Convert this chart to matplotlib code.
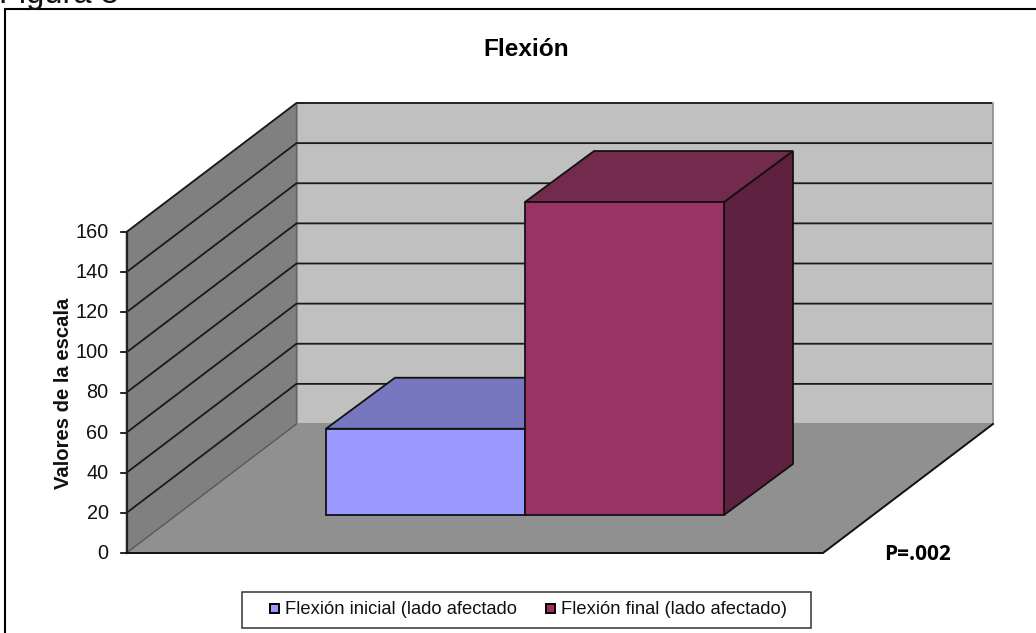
import matplotlib
matplotlib.use("Agg")
import matplotlib.pyplot as plt
from matplotlib.patches import Polygon, Rectangle

# ---- data ----
categories = ["Flexión inicial (lado afectado", "Flexión final (lado afectado)"]
values = [43, 156]
bar_colors = ["#9999FF", "#993366"]
top_colors = ["#7777BF", "#722A4D"]
side_colors = ["#5F5FA0", "#5E2240"]
y_ticks = [0, 20, 40, 60, 80, 100, 120, 140, 160]
title = "Flexión"
y_label = "Valores de la escala"
note = "P=.002"
caption = "Figura 3"

W, H = 1036, 633
plt.rcParams["font.family"] = ["Liberation Sans", "DejaVu Sans"]
fig = plt.figure(figsize=(W / 100, H / 100), dpi=100, facecolor="white")
ax = fig.add_axes([0, 0, 1, 1])
ax.set_xlim(0, W)
ax.set_ylim(H, 0)
ax.axis("off")

# chart scale
FL, FR, BASE = 126.5, 823, 553
DX, DY = 170, -129
PX_PER_UNIT = 321 / 160
BAR_DX, BAR_DY = 69, -51
BAR_BASE = 515
BAR_X0, BAR_W = 326, 199

def vy(v):
    return BASE - v * PX_PER_UNIT

def poly(pts, fc, ec="#111111", lw=1.3, z=2):
    ax.add_patch(Polygon(pts, closed=True, fc=fc, ec=ec, lw=lw, zorder=z, joinstyle="miter"))

top = max(y_ticks)
# outer frame: only the top and left rules are visible
ax.plot([4.5, 4.5, W], [H, 8.5, 8.5], color="black", lw=1.5, zorder=0, solid_joinstyle="miter")
ax.text(-1, 3, caption, fontsize=23.5, ha="left", va="baseline", color="#111111")

# walls and floor
poly([(FL + DX, BASE + DY), (FR + DX, BASE + DY), (FR + DX, vy(top) + DY), (FL + DX, vy(top) + DY)],
     "#C0C0C0", ec="#8C8C8C", lw=1.2, z=1)
poly([(FL, BASE), (FL + DX, BASE + DY), (FL + DX, vy(top) + DY), (FL, vy(top))],
     "#808080", ec="#666666", lw=1.0, z=1)
poly([(FL, BASE), (FR, BASE), (FR + DX, BASE + DY), (FL + DX, BASE + DY)],
     "#909090", ec="#909090", lw=0.8, z=1.2)

# gridlines and ticks
for v in y_ticks:
    y = vy(v)
    if v > 0:
        ax.plot([FL, FL + DX, FR + DX - 1], [y, y + DY, y + DY], color="#1A1A1A", lw=1.3, zorder=1.5,
                solid_joinstyle="miter", solid_capstyle="butt")
    ax.plot([FL - 6, FL], [y, y], color="black", lw=1.2, zorder=3)
    ax.text(FL - 18, y + 0.5, str(v), ha="right", va="center", fontsize=14.3, color="#111111")
ax.plot([FL, FL], [vy(top), BASE], color="#222222", lw=1.6, zorder=3)
ax.plot([FL, FR, FR + DX], [BASE, BASE, BASE + DY], color="#111111", lw=1.4, zorder=3)
ax.plot([FL, FL + DX], [BASE, BASE + DY], color="#555555", lw=0.9, zorder=1.4)

# 3D bars
for i, v in enumerate(values):
    x0 = BAR_X0 + i * BAR_W
    x1 = x0 + BAR_W
    ytop = BAR_BASE - v * PX_PER_UNIT
    z = 4 + i
    poly([(x1, BAR_BASE), (x1 + BAR_DX, BAR_BASE + BAR_DY), (x1 + BAR_DX, ytop + BAR_DY), (x1, ytop)],
         side_colors[i], z=z)
    poly([(x0, ytop), (x1, ytop), (x1 + BAR_DX, ytop + BAR_DY), (x0 + BAR_DX, ytop + BAR_DY)],
         top_colors[i], z=z)
    poly([(x0, BAR_BASE), (x1, BAR_BASE), (x1, ytop), (x0, ytop)], bar_colors[i], z=z + 0.1)

# text
ax.text(526, 49.5, title, ha="center", va="center", fontsize=17.6, fontweight="bold")
ax.text(63.5, 393, y_label, rotation=90, ha="center", va="center", fontsize=14.6, fontweight="bold",
        color="#111111")
ax.text(917, 554, note, ha="center", va="center", fontsize=15, fontweight="bold",
        family=["Open Sans", "DejaVu Sans"])

# legend
ax.add_patch(Rectangle((241.5, 591.5), 569, 36, fc="white", ec="#333333", lw=1.1, zorder=6))
for x, c, lab in zip([270, 546], bar_colors, categories):
    ax.add_patch(Rectangle((x, 604), 9, 9, fc=c, ec="black", lw=1.4, zorder=7))
    ax.text(x + 15, 609.5, lab, ha="left", va="center", fontsize=13.25, zorder=7, color="#111111")

fig.savefig("out.png", dpi=100)
